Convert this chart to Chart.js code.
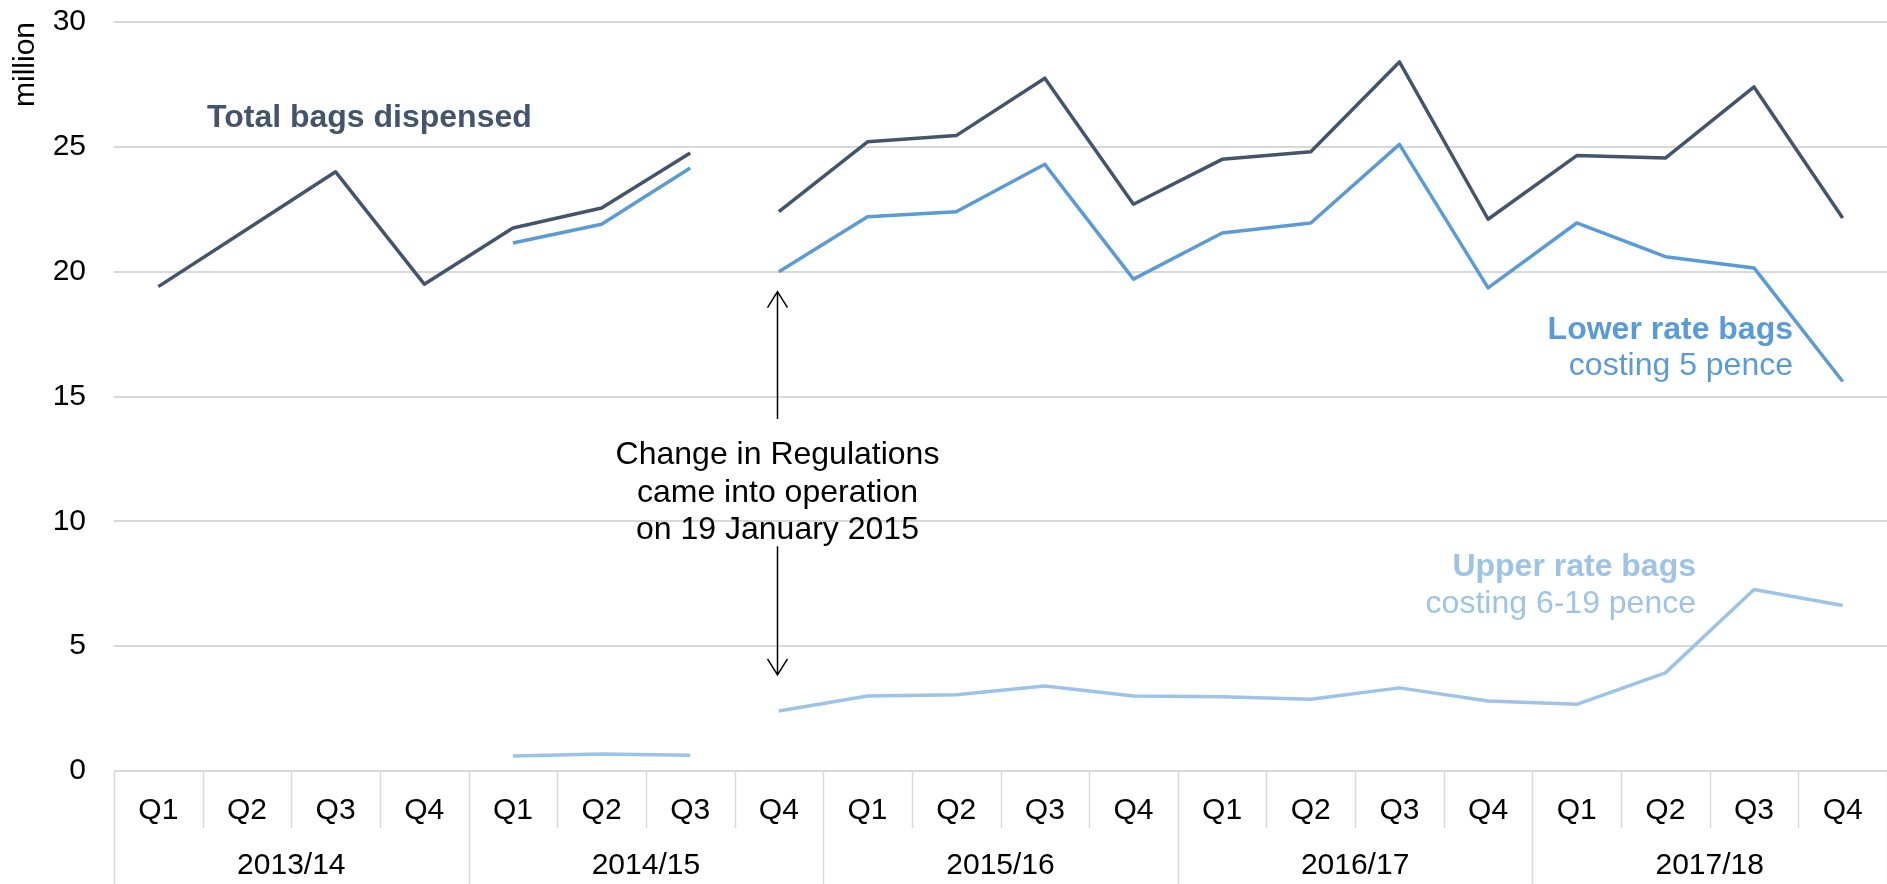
<!DOCTYPE html>
<html>
<head>
<meta charset="utf-8">
<script src="https://cdn.jsdelivr.net/npm/chart.js@4/dist/chart.umd.min.js"></script>
<style>
    body { margin: 0; background: #fff; }
    canvas { display: block; }
</style>
</head>
<body>
<canvas id="bagsChart" width="1887" height="884"></canvas>
<script>
const quarterLabels = ['Q1', 'Q2', 'Q3', 'Q4', 'Q1', 'Q2', 'Q3', 'Q4', 'Q1', 'Q2',
                       'Q3', 'Q4', 'Q1', 'Q2', 'Q3', 'Q4', 'Q1', 'Q2', 'Q3', 'Q4'];
const yearLabels = ['2013/14', '2014/15', '2015/16', '2016/17', '2017/18'];
const yTicks = [0, 5, 10, 15, 20, 25, 30];

// million bags per quarter
const totalBags = [19.4, 21.7, 24.0, 19.5, 21.75, 22.55, 24.75, 22.4, 25.2, 25.45,
                   27.75, 22.7, 24.5, 24.8, 28.4, 22.1, 24.65, 24.55, 27.4, 22.15];
const lowerRateBags = [null, null, null, null, 21.15, 21.9, 24.15, 20.0, 22.2, 22.4,
                       24.3, 19.7, 21.55, 21.95, 25.1, 19.35, 21.95, 20.6, 20.15, 15.6];
const upperRateBags = [null, null, null, null, 0.6, 0.68, 0.63, 2.4, 3.0, 3.05,
                       3.4, 3.0, 2.97, 2.87, 3.33, 2.8, 2.67, 3.93, 7.27, 6.63];

// the series are not joined across the change in regulations (2014/15 Q3 -> Q4)
const breakIndex = 6;

const FONT = '"Liberation Sans", Arial, sans-serif';
const totalColor = '#44546A';
const lowerColor = '#5B9BD5';
const upperColor = '#9DC3E6';
const gridColor = '#D9D9D9';

Chart.defaults.font.family = FONT;

function lineDataset(label, data, color) {
    return {
        label: label,
        data: data,
        borderColor: color,
        borderWidth: 3.5,
        pointRadius: 0,
        tension: 0,
        spanGaps: false,
        borderJoinStyle: 'round',
        segment: {
            borderColor: ctx => ctx.p0DataIndex === breakIndex ? 'rgba(0,0,0,0)' : undefined
        }
    };
}

// category box under the axis, year labels and text annotations
const decorPlugin = {
    id: 'decor',
    afterDraw(chart) {
        const ctx = chart.ctx;
        const xs = chart.scales.x;
        const ys = chart.scales.y;
        const step = (xs.right - xs.left) / quarterLabels.length;
        const top = xs.top;

        ctx.save();
        ctx.strokeStyle = gridColor;
        ctx.lineWidth = 1.5;
        for (let i = 0; i <= quarterLabels.length; i++) {
            const px = Math.round(xs.getPixelForValue(i) - step / 2) + 0.5;
            const bottom = i % 4 === 0 ? chart.height : top + 57;
            ctx.beginPath();
            ctx.moveTo(px, top);
            ctx.lineTo(px, bottom);
            ctx.stroke();
        }

        ctx.fillStyle = '#000';
        ctx.font = '30px ' + FONT;
        ctx.textAlign = 'center';
        ctx.textBaseline = 'middle';
        yearLabels.forEach((yr, k) => {
            const cx = (xs.getPixelForValue(k * 4) + xs.getPixelForValue(k * 4 + 3)) / 2;
            ctx.fillText(yr, cx, top + 95);
        });

        // labels for the lines
        ctx.textAlign = 'left';
        ctx.fillStyle = totalColor;
        ctx.font = 'bold 32px ' + FONT;
        ctx.fillText('Total bags dispensed', 207, ys.getPixelForValue(26.15));

        ctx.textAlign = 'right';
        ctx.fillStyle = lowerColor;
        ctx.font = 'bold 32px ' + FONT;
        ctx.fillText('Lower rate bags', 1793, ys.getPixelForValue(17.65));
        ctx.font = '32px ' + FONT;
        ctx.fillText('costing 5 pence', 1793, ys.getPixelForValue(16.2));

        ctx.fillStyle = upperColor;
        ctx.font = 'bold 32px ' + FONT;
        ctx.fillText('Upper rate bags', 1696, ys.getPixelForValue(8.15));
        ctx.font = '32px ' + FONT;
        ctx.fillText('costing 6-19 pence', 1696, ys.getPixelForValue(6.7));

        // change in regulations note with arrows
        const ax = Math.round(xs.getPixelForValue(breakIndex + 1)) - 1.5;
        ctx.textAlign = 'center';
        ctx.fillStyle = '#000';
        ctx.font = '32px ' + FONT;
        ctx.fillText('Change in Regulations', ax, ys.getPixelForValue(12.64));
        ctx.fillText('came into operation', ax, ys.getPixelForValue(11.12));
        ctx.fillText('on 19 January 2015', ax, ys.getPixelForValue(9.66));

        ctx.strokeStyle = '#000';
        ctx.lineWidth = 1.5;
        function arrow(fromVal, tipVal) {
            const y0 = ys.getPixelForValue(fromVal);
            const y1 = ys.getPixelForValue(tipVal);
            const dir = y1 < y0 ? 1 : -1;
            ctx.beginPath();
            ctx.moveTo(ax, y0);
            ctx.lineTo(ax, y1);
            ctx.moveTo(ax - 10, y1 + dir * 16);
            ctx.lineTo(ax, y1);
            ctx.lineTo(ax + 10, y1 + dir * 16);
            ctx.stroke();
        }
        arrow(14.1, 19.2);
        arrow(9.0, 3.85);
        ctx.restore();
    }
};

new Chart(document.getElementById('bagsChart').getContext('2d'), {
    type: 'line',
    data: {
        labels: quarterLabels,
        datasets: [
            lineDataset('Upper rate bags', upperRateBags, upperColor),
            lineDataset('Lower rate bags', lowerRateBags, lowerColor),
            lineDataset('Total bags dispensed', totalBags, totalColor)
        ]
    },
    options: {
        responsive: false,
        animation: false,
        devicePixelRatio: 1,
        layout: {
            padding: { top: 22, right: 0, bottom: 0, left: 0 }
        },
        plugins: {
            legend: { display: false },
            tooltip: { enabled: false }
        },
        scales: {
            x: {
                offset: true,
                grid: { display: false, drawTicks: false },
                border: { display: false },
                ticks: {
                    padding: 22,
                    color: '#000',
                    autoSkip: false,
                    maxRotation: 0,
                    font: { size: 30 }
                },
                afterFit: function(scale) {
                    scale.height = 113;
                    scale.paddingLeft = 0;
                    scale.paddingRight = 0;
                }
            },
            y: {
                min: 0,
                max: 30,
                grid: { color: gridColor, lineWidth: 2, drawTicks: false },
                border: { display: false },
                ticks: {
                    padding: 28,
                    color: '#000',
                    font: { size: 30 }
                },
                afterBuildTicks: function(scale) {
                    scale.ticks = yTicks.map(v => ({ value: v }));
                },
                title: {
                    display: true,
                    text: 'million',
                    align: 'end',
                    color: '#000',
                    padding: { top: 8, bottom: 0 },
                    font: { size: 30 }
                },
                afterFit: function(scale) {
                    scale.width = 114;
                    scale.paddingTop = 0;
                    scale.paddingBottom = 0;
                }
            }
        }
    },
    plugins: [decorPlugin]
});
</script>
</body>
</html>
